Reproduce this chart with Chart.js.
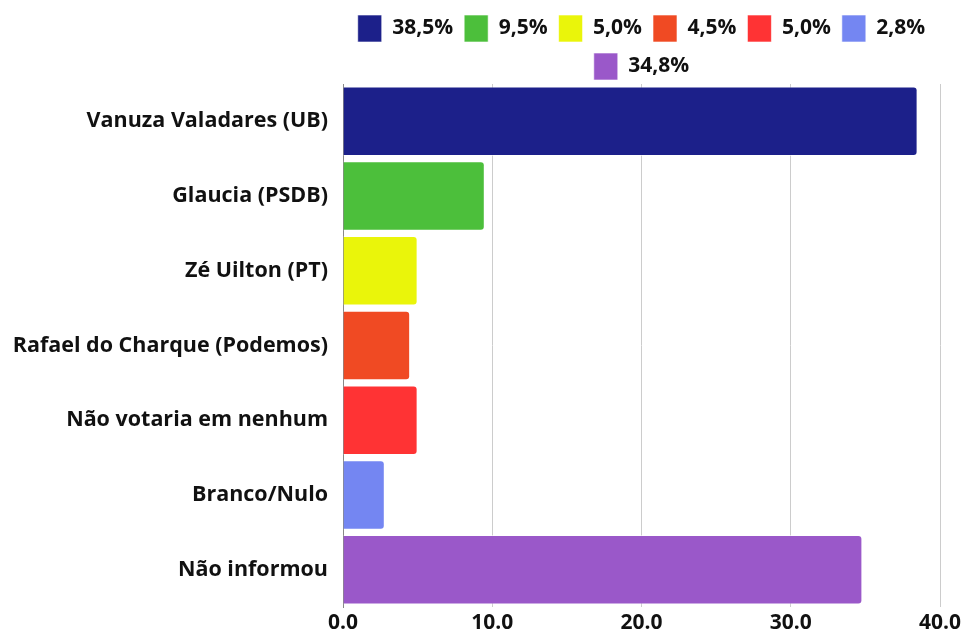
<!DOCTYPE html>
<html>
<head>
<meta charset="utf-8">
<script src="https://cdn.jsdelivr.net/npm/chart.js@4"></script>
<style>
  html, body { margin: 0; padding: 0; background: #fff; }
  #wrap { width: 962px; height: 633px; }
</style>
</head>
<body>
<div id="wrap"><canvas id="chart"></canvas></div>
<script>
const categories = [
  "Vanuza Valadares (UB)",
  "Glaucia (PSDB)",
  "Zé Uilton (PT)",
  "Rafael do Charque (Podemos)",
  "Não votaria em nenhum",
  "Branco/Nulo",
  "Não informou",
];
const values = [38.5, 9.5, 5.0, 4.5, 5.0, 2.8, 34.8];
const legendLabels = ["38,5%", "9,5%", "5,0%", "4,5%", "5,0%", "2,8%", "34,8%"];
const colors = ["#1c208a", "#4cbf3b", "#eaf50a", "#f04a23", "#ff3334", "#7486f2", "#9a58c9"];
const xTicks = [0, 10, 20, 30, 40];

document.addEventListener("DOMContentLoaded", function () {
  const family = "'Open Sans', 'Noto Sans', sans-serif";

  // one dataset per bar so each gets its own legend entry
  const datasets = values.map((v, i) => ({
    label: legendLabels[i],
    data: categories.map((c, j) => (j === i ? v : null)),
    backgroundColor: colors[i],
    borderColor: "rgba(255,255,255,0.6)",
    borderWidth: 1,
    borderRadius: 4,
    borderSkipped: "start",
    barPercentage: 0.93,
    categoryPercentage: 1,
  }));

  // trim the legend's trailing padding so the bars start closer to it
  const tightLegend = {
    id: "tightLegend",
    afterInit(chart) {
      const legend = chart.legend;
      if (!legend) return;
      const fit = legend.fit;
      legend.fit = function () {
        fit.call(this);
        this.height -= 6;
      };
    },
  };

  new Chart(document.getElementById("chart").getContext("2d"), {
    type: "bar",
    data: { labels: categories, datasets },
    plugins: [tightLegend],
    options: {
      indexAxis: "y",
      responsive: true,
      maintainAspectRatio: false,
      animation: false,
      layout: { padding: { left: 0, right: 2, top: 4, bottom: 0 } },
      plugins: {
        legend: {
          position: "top",
          fullSize: false,
          labels: {
            color: "#111",
            font: { family, weight: "bold", size: 21 },
            boxWidth: 24,
            boxHeight: 27,
            padding: 11,
          },
        },
        tooltip: { enabled: false },
      },
      scales: {
        x: {
          min: 0,
          max: 40,
          afterBuildTicks: (axis) => {
            axis.ticks = xTicks.map((v) => ({ value: v }));
          },
          afterFit: (axis) => {
            axis.height = 26;
            axis.paddingRight = 22;
          },
          ticks: {
            color: "#111",
            font: { family, weight: "bold", size: 21 },
            padding: 3,
            callback: (v) => Number(v).toFixed(1),
          },
          grid: { color: "#cccccc", drawTicks: false, tickLength: 0 },
          border: { display: false },
        },
        y: {
          stacked: true,
          afterFit: (axis) => {
            axis.width = 343;
          },
          ticks: { color: "#111", font: { family, weight: "bold", size: 21.5 }, padding: 7 },
          grid: { display: false },
          border: { display: true, color: "#888" },
        },
      },
    },
  });
});
</script>
</body>
</html>
